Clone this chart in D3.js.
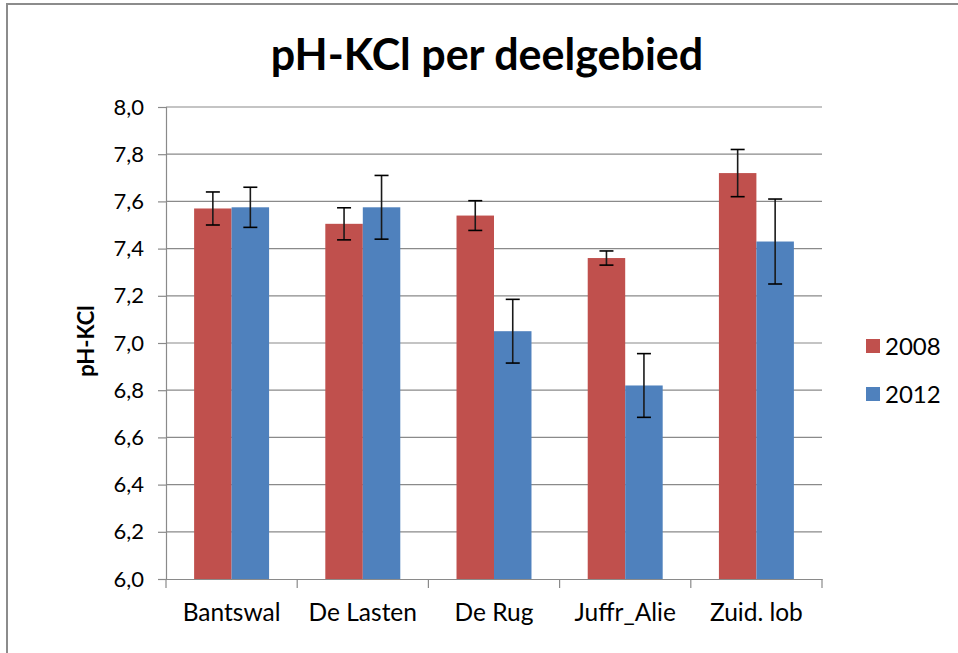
<!DOCTYPE html>
<html>
<head>
<meta charset="utf-8">
<script src="https://cdn.jsdelivr.net/npm/d3@7"></script>
<style>
  html, body { margin: 0; padding: 0; background: #fff; }
  svg { display: block; }
  text { font-family: Lato, "Open Sans", sans-serif; fill: #000; }
</style>
</head>
<body>
<script>
const categories = ["Bantswal", "De Lasten", "De Rug", "Juffr_Alie", "Zuid. lob"];
const series = ["2008", "2012"];
const values2008 = [7.57, 7.505, 7.54, 7.36, 7.72];
const errors2008 = [0.07, 0.068, 0.063, 0.03, 0.10];
const values2012 = [7.575, 7.575, 7.05, 6.82, 7.43];
const errors2012 = [0.085, 0.135, 0.135, 0.135, 0.18];
const yTicks = [6.0, 6.2, 6.4, 6.6, 6.8, 7.0, 7.2, 7.4, 7.6, 7.8, 8.0];
const colors = ["#C0504D", "#4F81BD"];

const W = 958, H = 653;
const svg = d3.select("body").append("svg").attr("width", W).attr("height", H);

// outer chart border
svg.append("rect").attr("x", 7).attr("y", 4).attr("width", W + 10).attr("height", H + 10)
  .attr("fill", "#fff").attr("stroke", "#8c8c8c").attr("stroke-width", 2);

const plot = { left: 166, right: 822, top: 107, bottom: 579 };

const x = d3.scaleBand().domain(categories).range([plot.left, plot.right]).padding(0);
const y = d3.scaleLinear().domain([6.0, 8.0]).range([plot.bottom, plot.top]);
// inner band: two bars with Excel-like gap width 150%
const xInner = d3.scaleBand().domain(series)
  .range([0, x.bandwidth()]).paddingInner(0).paddingOuter(0.75);

// gridlines
svg.append("g").selectAll("line").data(yTicks.filter(t => t > 6.0)).join("line")
  .attr("x1", plot.left).attr("x2", plot.right)
  .attr("y1", d => y(d)).attr("y2", d => y(d))
  .attr("stroke", "#8a8a8a").attr("stroke-width", 1.2);

// y axis
const yAxis = d3.axisLeft(y).tickValues(yTicks).tickSize(8).tickPadding(14)
  .tickFormat(d => d3.format(".1f")(d).replace(".", ","));
const gy = svg.append("g").attr("transform", `translate(${plot.left},0)`).call(yAxis);
gy.select(".domain").attr("stroke", "#8a8a8a").attr("stroke-width", 1.2);
gy.selectAll(".tick line").attr("stroke", "#8a8a8a").attr("stroke-width", 1.2);
gy.selectAll(".tick text").attr("font-size", 22).attr("font-family", "Lato, sans-serif").attr("fill", "#000");

// x axis
const xAxis = d3.axisBottom(x).tickSize(0).tickPadding(25);
const gx = svg.append("g").attr("transform", `translate(0,${plot.bottom})`).call(xAxis);
gx.select(".domain").attr("stroke", "#8a8a8a").attr("stroke-width", 1.2);
gx.selectAll(".tick text").attr("font-size", 24.5).attr("font-family", "Lato, sans-serif").attr("fill", "#000");
// category boundary ticks
const bounds = categories.map(c => x(c)).concat([x(categories[categories.length - 1]) + x.bandwidth()]);
gx.append("g").selectAll("line").data(bounds).join("line")
  .attr("x1", d => d).attr("x2", d => d).attr("y1", 0).attr("y2", 9)
  .attr("stroke", "#8a8a8a").attr("stroke-width", 1.2);

// data table for bars
const rows = [];
categories.forEach((c, i) => {
  rows.push({ cat: c, s: "2008", v: values2008[i], e: errors2008[i], color: colors[0] });
  rows.push({ cat: c, s: "2012", v: values2012[i], e: errors2012[i], color: colors[1] });
});

svg.append("g").selectAll("rect").data(rows).join("rect")
  .attr("x", d => x(d.cat) + xInner(d.s))
  .attr("width", xInner.bandwidth())
  .attr("y", d => y(d.v))
  .attr("height", d => y(6.0) - y(d.v))
  .attr("fill", d => d.color);

// error bars
const capW = 7;
const eg = svg.append("g").attr("stroke", "#000").attr("stroke-width", 1.6).attr("fill", "none");
rows.forEach(d => {
  const cx = x(d.cat) + xInner(d.s) + xInner.bandwidth() / 2;
  const y1 = y(d.v + d.e), y2 = y(d.v - d.e);
  eg.append("line").attr("x1", cx).attr("x2", cx).attr("y1", y1).attr("y2", y2)
    .attr("stroke", "#1a1a1a");
  eg.append("line").attr("x1", cx - capW).attr("x2", cx + capW).attr("y1", y1).attr("y2", y1);
  eg.append("line").attr("x1", cx - capW).attr("x2", cx + capW).attr("y1", y2).attr("y2", y2);
});

// title
svg.append("text").attr("x", 487).attr("y", 70).attr("text-anchor", "middle")
  .attr("font-size", 43).attr("font-weight", 700).text("pH-KCl per deelgebied");

// y axis title
svg.append("text").attr("transform", `translate(94,341) rotate(-90)`)
  .attr("text-anchor", "middle").attr("font-size", 22).attr("font-weight", 700).text("pH-KCl");

// legend
const lg = svg.append("g");
series.forEach((s, i) => {
  const ly = 346 + i * 48;
  lg.append("rect").attr("x", 866).attr("y", ly - 7).attr("width", 14).attr("height", 14).attr("fill", colors[i]);
  lg.append("text").attr("x", 885).attr("y", ly).attr("dy", "0.36em")
    .attr("font-size", 24).text(s);
});
</script>
</body>
</html>
